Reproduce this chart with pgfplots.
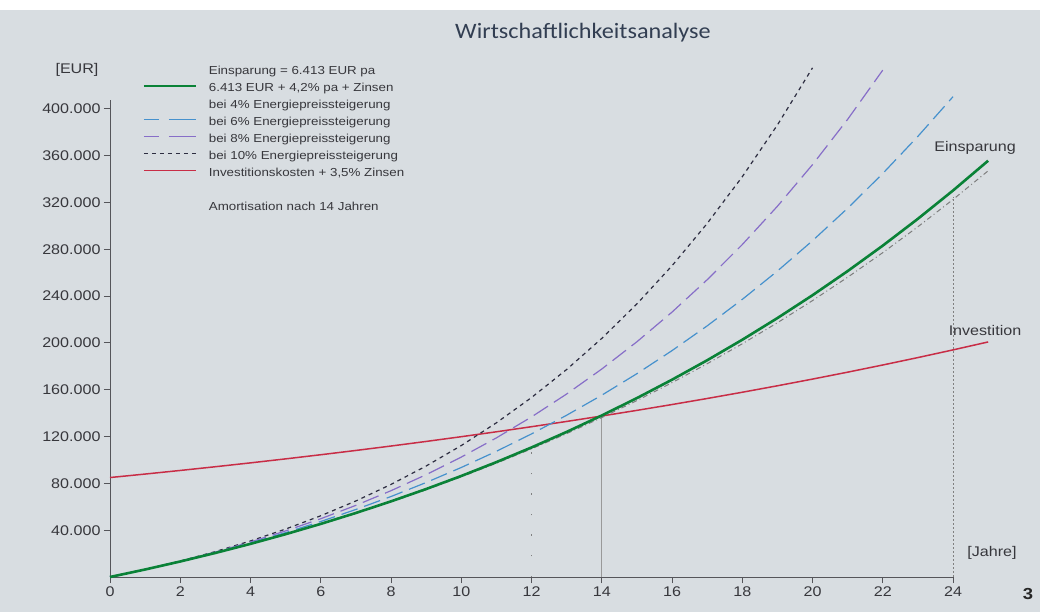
\documentclass[border=0pt]{standalone}
\usepackage{fontspec}
\setmainfont{Liberation Sans}[FakeStretch=1.15]
\newfontfamily\titlefont{Carlito}[FakeStretch=1.1]
\usepackage{pgfplots}
\pgfplotsset{compat=1.18}

\definecolor{panel}{RGB}{216,221,225}
\definecolor{axisgray}{RGB}{85,85,90}
\definecolor{txt}{RGB}{55,55,60}
\definecolor{titlecol}{RGB}{50,62,82}
\definecolor{einspar}{RGB}{10,130,55}
\definecolor{invest}{RGB}{200,45,70}
\definecolor{blue6}{RGB}{70,145,205}
\definecolor{purple8}{RGB}{135,110,200}
\definecolor{black10}{RGB}{45,45,65}
\definecolor{gray4}{RGB}{125,125,125}

\begin{document}
\begin{tikzpicture}
\fill[white] (0,0) rectangle (1044bp,614bp);
\fill[panel] (0,2bp) rectangle (1040bp,604bp);

\begin{axis}[
  at={(110bp,37bp)}, anchor=south west,
  scale only axis, width=843bp, height=477.4bp,
  xmin=0, xmax=24, ymin=0, ymax=408000,
  axis x line=bottom, axis y line=left,
  axis line style={-, axisgray, line width=1bp},
  clip=false,
  xtick={0,2,...,24},
  ytick={40000,80000,...,400000},
  scaled y ticks=false,
  /pgf/number format/.cd, fixed, 1000 sep={.}, assume math mode=true,
  /pgfplots/.cd,
  tick align=outside, major tick length=6bp,
  tick style={axisgray, line width=1bp},
  ticklabel style={font=\fontsize{14bp}{16bp}\selectfont, text=txt},
  legend style={at={(axis description cs:0.039,1.070)}, anchor=north west,
    draw=none, fill=none, inner sep=0pt, column sep=12bp, row sep=5.4bp,
    font=\fontsize{11.6bp}{13bp}\selectfont,
    nodes={inner sep=0pt, text height=8.5bp, text depth=3bp, text=txt}},
  legend cell align=left,
  legend image code/.code={\draw[#1] (0bp,3bp) -- (52bp,3bp);},
]

% Investitionskosten + 3,5% Zinsen
\addplot[invest, line width=1.5bp, forget plot] coordinates {
(0,85000) (1,87975) (2,91054) (3,94241) (4,97539) (5,100953) (6,104487)
(7,108144) (8,111929) (9,115846) (10,119901) (11,124097) (12,128441)
(13,132936) (14,137589) (15,142405) (16,147389) (17,152547) (18,157887)
(19,163413) (20,169132) (21,175052) (22,181179) (23,187520) (24,194083)
(25,200876)};

% reference lines
\addplot[gray!80, line width=1bp, forget plot] coordinates {(14,0) (14,138000)};
\addplot[gray, line width=1bp, dash pattern=on 1.5bp off 19bp, forget plot] coordinates {(12,0) (12,110700)};
\addplot[gray, line width=1bp, dash pattern=on 2bp off 2bp, forget plot] coordinates {(24,0) (24,325000)};

% 10% Energiepreissteigerung
\addplot[black10, line width=1.2bp, dash pattern=on 4bp off 4bp, forget plot] coordinates {
(0,0) (1,6413) (2,13628) (3,21728) (4,30807) (5,40966) (6,52319) (7,64988)
(8,79110) (9,94834) (10,112326) (11,131767) (12,153359) (13,177320)
(14,203892) (15,233343) (16,265966) (17,302083) (18,342049) (19,386256)
(20,435132)};

% 8% Energiepreissteigerung
\addplot[purple8, line width=1.2bp, dash pattern=on 17bp off 7bp, forget plot] coordinates {
(0,0) (1,6413) (2,13499) (3,21317) (4,29928) (5,39401) (6,49809) (7,61231)
(8,73753) (9,87467) (10,102473) (11,118880) (12,136805) (13,156374)
(14,177724) (15,201003) (16,226372) (17,254001) (18,284080) (19,316808)
(20,352405) (21,391106) (22,433165)};

% 6% Energiepreissteigerung
\addplot[blue6, line width=1.2bp, dash pattern=on 17bp off 7bp, forget plot] coordinates {
(0,0) (1,6413) (2,13371) (3,20911) (4,29072) (5,37895) (6,47424) (7,57707)
(8,68792) (9,80733) (10,93587) (11,107411) (12,122270) (13,138231)
(14,155365) (15,173748) (16,193461) (17,214589) (18,237222) (19,261458)
(20,287398) (21,315150) (22,344830) (23,376560) (24,410470)};

% 4% Energiepreissteigerung
\addplot[gray4, line width=1bp, dash pattern=on 5bp off 3bp on 1bp off 3bp, forget plot] coordinates {
(0,0) (1,6413) (2,13243) (3,20510) (4,28237) (5,36445) (6,45159) (7,54402)
(8,64201) (9,74583) (10,85575) (11,97208) (12,109510) (13,122516)
(14,136256) (15,150768) (16,166086) (17,182250) (18,199299) (19,217273)
(20,236216) (21,256173) (22,277191) (23,299318) (24,322608) (25,347112)};

% Einsparung 6.413 EUR + 4,2% pa + Zinsen
\addplot[einspar, line width=2.6bp, forget plot] coordinates {
(0,0) (1,6413) (2,13255) (3,20550) (4,28319) (5,36587) (6,45380) (7,54723)
(8,64644) (9,75173) (10,86339) (11,98174) (12,110712) (13,123987)
(14,138034) (15,152893) (16,168602) (17,185204) (18,202740) (19,221258)
(20,240803) (21,261424) (22,283176) (23,306110) (24,330283) (25,355754)};

\addlegendimage{empty legend}
\addlegendentry{Einsparung = 6.413 EUR pa}
\addlegendimage{draw=einspar, line width=1.8bp}
\addlegendentry{6.413 EUR + 4,2\% pa + Zinsen}
\addlegendimage{empty legend}
\addlegendentry{bei 4\% Energiepreissteigerung}
\addlegendimage{draw=blue6, line width=1.3bp, dash pattern=on 15bp off 10bp on 30bp off 10bp}
\addlegendentry{bei 6\% Energiepreissteigerung}
\addlegendimage{draw=purple8, line width=1.3bp, dash pattern=on 15bp off 10bp on 30bp off 10bp}
\addlegendentry{bei 8\% Energiepreissteigerung}
\addlegendimage{draw=black10, line width=1.2bp, dash pattern=on 4bp off 4bp}
\addlegendentry{bei 10\% Energiepreissteigerung}
\addlegendimage{draw=invest, line width=1.5bp}
\addlegendentry{Investitionskosten + 3,5\% Zinsen}
\addlegendimage{empty legend}
\addlegendentry{}
\addlegendimage{empty legend}
\addlegendentry{Amortisation nach 14 Jahren}
\end{axis}

\node[text=titlecol, font=\titlefont\fontsize{22bp}{26bp}\selectfont] at (583bp,581bp) {Wirtschaftlichkeitsanalyse};
\node[text=txt, font=\fontsize{14bp}{16bp}\selectfont] at (77bp,544bp) {[EUR]};
\node[text=txt, font=\fontsize{14bp}{16bp}\selectfont] at (992bp,61bp) {[Jahre]};
\node[text=txt, font=\fontsize{14bp}{16bp}\selectfont] at (975bp,466bp) {Einsparung};
\node[text=txt, font=\fontsize{14bp}{16bp}\selectfont] at (985bp,284bp) {Investition};
\node[text=black!85, font=\bfseries\fontsize{16bp}{18bp}\selectfont] at (1028bp,20bp) {3};
\end{tikzpicture}
\end{document}
